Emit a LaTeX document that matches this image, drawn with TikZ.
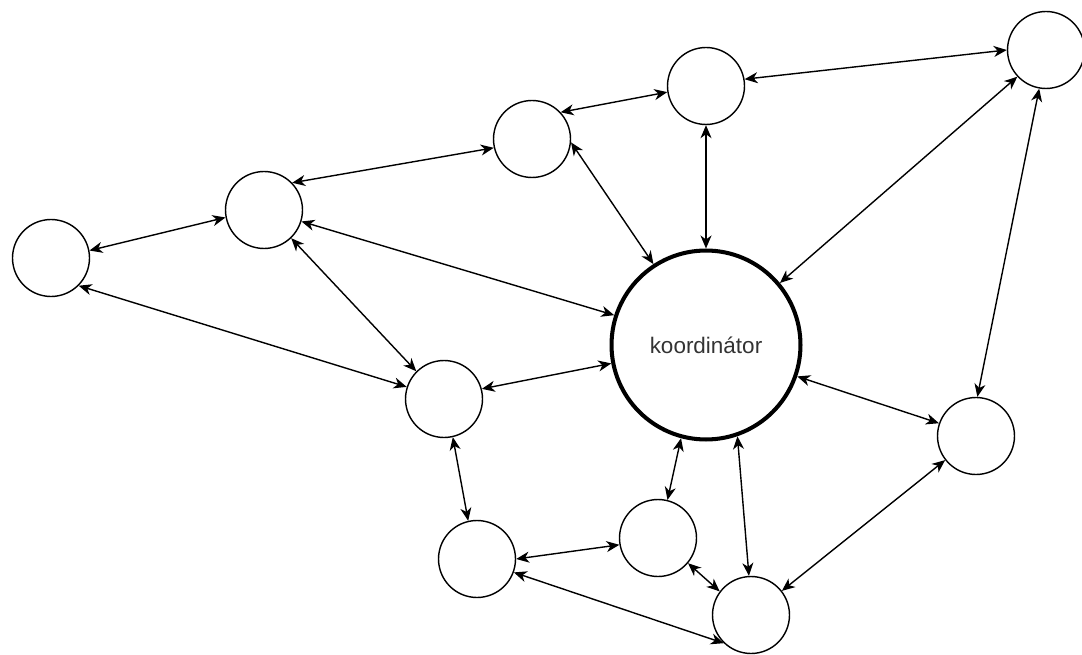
\documentclass[tikz,border=0pt]{standalone}
\usepackage{fontspec}
\setmainfont{Liberation Sans}
\usetikzlibrary{arrows.meta}
\begin{document}
\begin{tikzpicture}[x=0.02cm,y=-0.02cm,
  peer/.style={circle,draw,line width=0.8pt,minimum size=1.54cm,inner sep=0pt},
  koord/.style={circle,draw,line width=2.3pt,minimum size=3.78cm,inner sep=0pt,
    font=\fontsize{12.8}{15}\selectfont,text=black!80},
  link/.style={{Stealth[length=2.6mm,width=2.2mm,inset=0.8mm]}-{Stealth[length=2.6mm,width=2.2mm,inset=0.8mm]},line width=0.8pt}]
\useasboundingbox (0,0) rectangle (1082,655);
\node[koord] (ko) at (706,345) {koordinátor};
\foreach \n/\x/\y in {n1/51/258,n2/264/210,n3/532/139,n4/706/86,n5/1046/50,
  n6/976/436,n7/444/399,n8/477/559,n9/658/538,n10/751/615}
  \node[peer] (\n) at (\x,\y) {};
% links between the nodes
\foreach \a/\i/\b/\j in {n1/11/n2/191, n1/-45/n7/162, n2/44/n3/193, n2/-17/ko/162,
  n2/-46/n7/135, n3/43/n4/189, n3/-5/ko/123, n4/-90/ko/90, n4/10/n5/180,
  n5/223/ko/40, n5/260/n6/88, n6/161/ko/-19, n6/218/n10/38, n7/15/ko/191,
  n7/-77/n8/103, n8/0/n9/190, n8/-20/n10/226, n9/76/ko/255, n9/-40/n10/143,
  n10/93/ko/289}
  \draw[link] (\a.\i) -- (\b.\j);
\end{tikzpicture}
\end{document}
